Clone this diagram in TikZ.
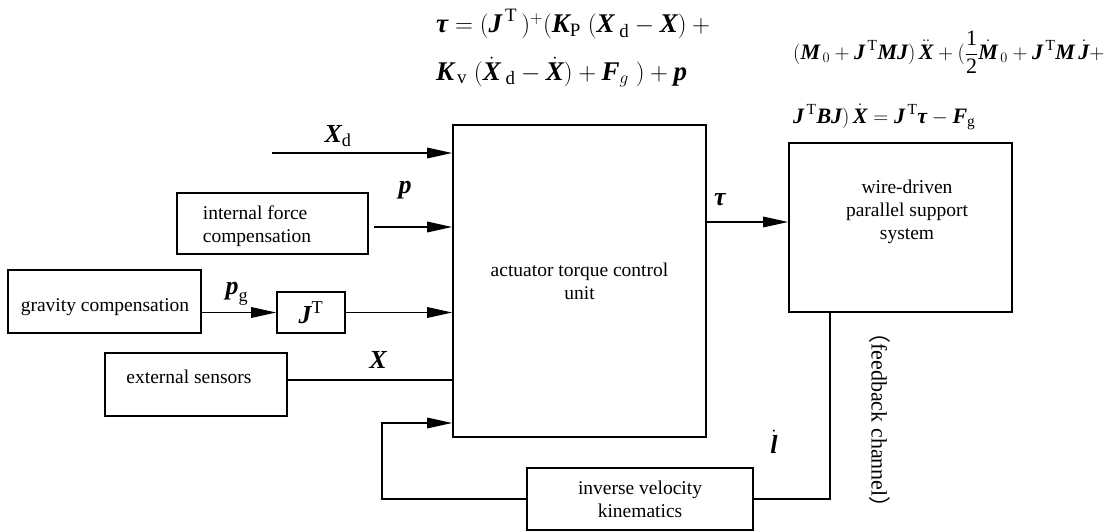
\documentclass[tikz,border=0pt]{standalone}
\usepackage{amsmath}
\usepackage{fontspec}
\setmainfont{Liberation Serif}
\newfontfamily\cjk{Noto Sans CJK SC}
\usetikzlibrary{arrows.meta}
\newcommand{\bi}[1]{\text{\bfseries\itshape #1}}
\newcommand{\bigdig}[1]{\text{\fontsize{22}{22}\selectfont #1}}
\newcommand{\boxfont}{\fontsize{19.5}{23}\selectfont}
\newcommand{\lblfont}{\fontsize{26}{30}\selectfont}
\begin{document}
\begin{tikzpicture}[x=1pt,y=-1pt,
  box/.style={draw, line width=1.6pt, inner sep=0pt, font=\boxfont},
  txt/.style={inner sep=0pt, font=\boxfont},
  arr/.style={-{Triangle[length=25pt,width=10.5pt]}, line width=1.7pt},
  conn/.style={line width=1.7pt},
  lbl/.style={inner sep=0pt, font=\lblfont},
  eqa/.style={inner sep=0pt, anchor=west, font=\fontsize{27}{30}\selectfont},
  eqb/.style={inner sep=0pt, anchor=west, font=\fontsize{22}{26}\selectfont}]
\useasboundingbox (0,0) rectangle (1119,532);

% blocks
\node[box, minimum width=253pt, minimum height=312pt, align=center] (ctrl) at (579.5,281) {actuator torque control\\unit};
\node[box, minimum width=223pt, minimum height=169pt] (sys) at (900.5,227.5) {};
\node[txt, align=center] (systxt) at (907,212) {wire-driven\\parallel support\\system};
\node[box, minimum width=191pt, minimum height=61pt] (ifc) at (272.5,223.5) {};
\node[txt, align=left] (ifctxt) at (257,226) {internal force\\compensation};
\node[box, minimum width=193pt, minimum height=63pt] (grav) at (104.5,301.5) {};
\node[txt] (gravtxt) at (105,307) {gravity compensation};
\node[box, minimum width=68pt, minimum height=41pt, font=\lblfont] (jt) at (311,312.5) {$\bi{J}^{\mathrm{T}}$};
\node[box, minimum width=182pt, minimum height=63pt] (ext) at (196,384.5) {};
\node[txt] (exttxt) at (189,377) {external sensors};
\node[box, minimum width=226pt, minimum height=62pt, align=center] (inv) at (640,499) {inverse velocity\\kinematics};

% helper coordinates
\coordinate (xdstart) at (272,153);
\coordinate (pstart) at (374,227);
\coordinate (xy) at (0,380);
\coordinate (tauy) at (0,222);
\coordinate (fbx) at (830,0);
\coordinate (fbl) at (382,423);

% connectors
\draw[arr] (xdstart) -- (xdstart -| ctrl.west);
\draw[arr] (pstart) -- (pstart -| ctrl.west);
\draw[arr] (jt.west -| grav.east) -- (jt.west);
\draw[arr] (jt.east) -- (jt.east -| ctrl.west);
\draw[conn] (ext.east |- xy) -- (ctrl.west |- xy);
\draw[arr] (ctrl.east |- tauy) -- (sys.west |- tauy);
\draw[conn] (fbx |- sys.south) -- (fbx |- inv.east) -- (inv.east);
\draw[arr] (inv.west) -| (fbl) -- (fbl -| ctrl.west);

% labels
\node[lbl] (lxd) at (338,136) {$\bi{X}_{\mathrm{d}}$};
\node[lbl] (lp) at (405,190) {$\bi{p}$};
\node[lbl] (lpg) at (237,294) {$\bi{p}_{\mathrm{g}}$};
\node[lbl] (lx) at (378,360) {$\bi{X}$};
\node[lbl] (ltau) at (720,200) {$\bi{τ}$};
\node[lbl] (ll) at (774,442) {$\dot{\bi{l}}$};
\node[inner sep=0pt, font=\fontsize{22}{26}\selectfont, rotate=-90] (fbc) at (880,420) {{\cjk （}feedback channel{\cjk ）}};

% equations
\node[eqa] (eq1a) at (436,24) {$\bi{τ} = (\bi{J}^{\,\mathrm{T}}\,)^{+}(\bi{K}_{\mathrm{P}}\;(\bi{X}_{\;\mathrm{d}} - \bi{X}) +{}$};
\node[eqa] (eq1b) at (436,72) {$\bi{K}_{\,\mathrm{v}}\;(\dot{\bi{X}}_{\;\mathrm{d}} - \dot{\bi{X}}) + \bi{F}_{g}\;) + \bi{p}$};
\node[eqb] (eq2a) at (793,52) {$(\bi{M}_{\,0} + \bi{J}^{\,\mathrm{T}}\bi{MJ})\,\ddot{\bi{X}} + (\dfrac{\bigdig{1}}{\bigdig{2}}\dot{\bi{M}}_{\,0} + \bi{J}^{\,\mathrm{T}}\bi{M}\,\dot{\bi{J}} +$};
\node[eqb] (eq2b) at (793,117) {$\bi{J}^{\,\mathrm{T}}\bi{BJ})\,\dot{\bi{X}} = \bi{J}^{\,\mathrm{T}}\bi{τ} - \bi{F}_{\mathrm{g}}$};
\end{tikzpicture}
\end{document}
